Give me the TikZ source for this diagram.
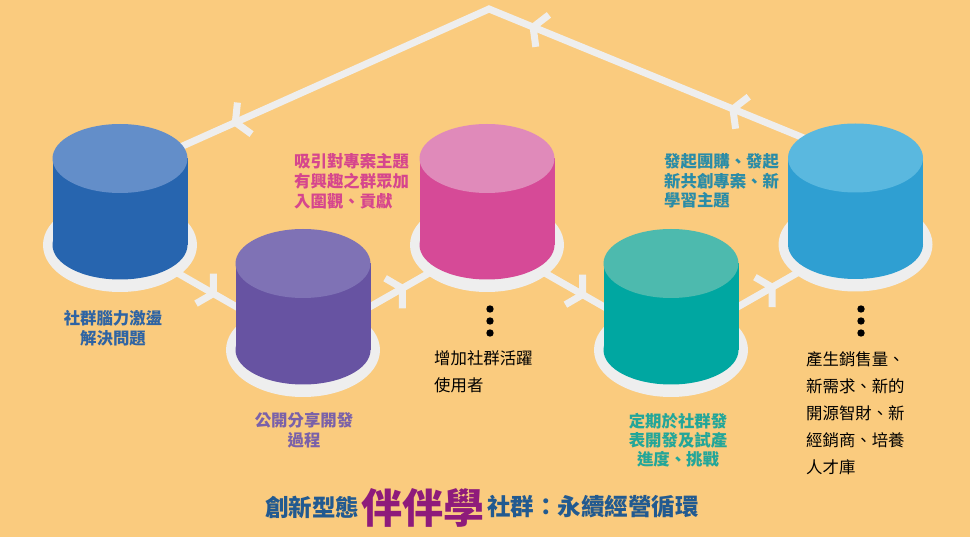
\documentclass[tikz,border=0pt]{standalone}
\usepackage{fontspec}
\newfontfamily\cjk{Noto Sans CJK TC}
\usetikzlibrary{decorations.markings}
\definecolor{bg}{HTML}{FACB7E}
\definecolor{flowc}{HTML}{EEEEEE}
\definecolor{c1top}{HTML}{638EC9}\definecolor{c1side}{HTML}{2765AF}
\definecolor{c2top}{HTML}{7F72B5}\definecolor{c2side}{HTML}{6753A2}
\definecolor{c3top}{HTML}{E08ABA}\definecolor{c3side}{HTML}{D64A97}
\definecolor{c4top}{HTML}{4DBAAE}\definecolor{c4side}{HTML}{00A7A1}
\definecolor{c5top}{HTML}{5AB8DF}\definecolor{c5side}{HTML}{2F9FD2}
\definecolor{lblblue}{HTML}{2F64A3}
\definecolor{lblpurple}{HTML}{7A61A9}
\definecolor{lblpink}{HTML}{D6468D}
\definecolor{lbltealblue}{HTML}{2A8CA7}
\definecolor{lblteal}{HTML}{23A699}
\definecolor{titleblue}{HTML}{225A90}
\definecolor{titlemag}{HTML}{8E1B7B}
\newcommand\drawcyl[5]{%
  \fill[flowc] (#1,#3) ellipse[x radius=77,y radius=47];
  \fill[#5] (#1-67.5,#2) rectangle (#1+67.5,#3);
  \fill[#5] (#1,#3) ellipse[x radius=67.5,y radius=34.5];
  \fill[#4] (#1,#2) ellipse[x radius=67.5,y radius=34.5];
}
\begin{document}
\begin{tikzpicture}[x=1pt,y=-1pt,
  flow/.style={draw=flowc,line width=7pt},
  barb/.style={draw=flowc,line width=7pt,line cap=butt},
  flowarrow/.style={postaction={decorate,decoration={markings,
     mark=at position #1 with {\draw[barb] (-10,17.3)--(0,0) (-10,-17.3)--(0,0);}}}},
  lbl/.style={inner sep=0pt,font=\cjk\bfseries\fontsize{16.4}{19.8}\selectfont},
  plain/.style={inner sep=0pt,align=left,font=\cjk\fontsize{16.4}{26.5}\selectfont},
  dot/.style={fill=black}
]
\fill[bg] (0,0) rectangle (970,537);
\useasboundingbox (0,0) rectangle (970,537);

% anchor points for the flow lines
\coordinate (c1b) at (120,240);
\coordinate (c2b) at (303,345);
\coordinate (c3b) at (487,240);
\coordinate (c4b) at (671,345);
\coordinate (c5b) at (855,240);
\coordinate (c5t) at (855,159);
\coordinate (peak) at (489,9);
\coordinate (c1t) at (120,174);

% flow lines (behind the cylinders)
\draw[flow,flowarrow=0.165,flowarrow=0.435,flowarrow=0.842] (c5t) -- (peak) -- (c1t);
\draw[flow,flowarrow=0.51] (c1b) -- (c2b);
\draw[flow,flowarrow=0.54] (c2b) -- (c3b);
\draw[flow,flowarrow=0.52] (c3b) -- (c4b);
\draw[flow,flowarrow=0.55] (c4b) -- (c5b);

% cylinders
\drawcyl{120}{158.5}{245}{c1top}{c1side}
\drawcyl{303}{263.5}{350}{c2top}{c2side}
\drawcyl{487}{158.5}{245}{c3top}{c3side}
\drawcyl{671}{263.5}{350}{c4top}{c4side}
\drawcyl{855.5}{158}{244.5}{c5top}{c5side}

% labels
\node[lbl,text=lblblue,align=center] (l1) at (113,328) {社群腦力激盪\\解決問題};
\node[lbl,text=lblpurple,align=center] (l2) at (304,430) {公開分享開發\\過程};
\node[lbl,text=lblpink,align=left,anchor=west] (l3) at (294,181) {吸引對專案主題\\有興趣之群眾加\\入圍觀、貢獻};
\node[lbl,text=lbltealblue,align=left,anchor=west] (l5) at (664,181) {發起團購、發起\\新共創專案、新\\學習主題};
\node[lbl,text=lblteal,align=center,font=\cjk\bfseries\fontsize{16.4}{19.2}\selectfont] (l4) at (678,440) {定期於社群發\\表開發及試產\\進度、挑戰};

\node[plain,anchor=west] (r3) at (434,372) {增加社群活躍\\使用者};
\node[plain,anchor=west,font=\cjk\fontsize{16.4}{27}\selectfont] (r5) at (806,413) {產生銷售量、\\新需求、新的\\開源智財、新\\經銷商、培養\\人才庫};

% dots
\fill[dot] (490,309) circle[radius=3.7];
\fill[dot] (490,321) circle[radius=3.7];
\fill[dot] (490,333) circle[radius=3.7];
\fill[dot] (861,309) circle[radius=3.7];
\fill[dot] (861,321) circle[radius=3.7];
\fill[dot] (861,333) circle[radius=3.7];

% title
\node[inner sep=0pt,anchor=west,text=titleblue,font=\cjk\bfseries\fontsize{23.5}{24}\selectfont] (t1) at (265,507) {創新型態};
\node[inner sep=0pt,anchor=west,text=titlemag,font=\cjk\bfseries\fontsize{41}{42}\selectfont] (t2) at (361,508) {伴伴學};
\node[inner sep=0pt,anchor=west,text=titleblue,font=\cjk\bfseries\fontsize{23.5}{24}\selectfont] (t3) at (487,507) {社群：永續經營循環};
\end{tikzpicture}
\end{document}
